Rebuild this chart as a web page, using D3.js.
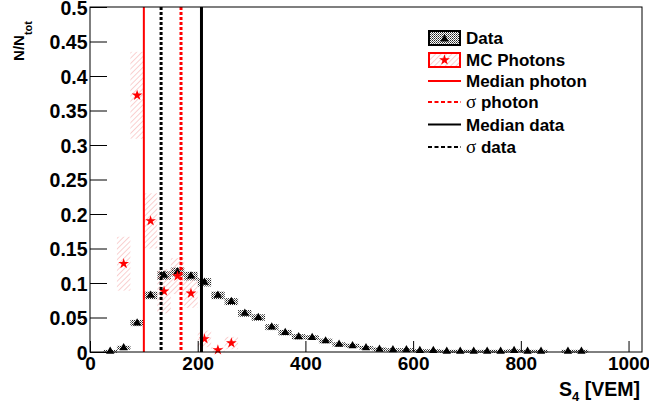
<!DOCTYPE html>
<html><head><meta charset="utf-8">
<script src="https://cdn.jsdelivr.net/npm/d3@7/dist/d3.min.js"></script>
<style>
html,body{margin:0;padding:0;background:#fff;}
svg{display:block;}
text{font-family:"Liberation Sans",Arial,sans-serif;font-weight:bold;fill:#000;}
</style></head><body>
<svg id="c" width="649" height="405"></svg>
<script>
// ---------- data ----------
const dataCenters = [37.5, 62.5, 87.5, 112.5, 137.5, 162.5, 187.5, 212.5, 237.5, 262.5, 287.5, 312.5, 337.5, 362.5, 387.5, 412.5, 437.5, 462.5, 487.5, 512.5, 537.5, 562.5, 587.5, 612.5, 637.5, 662.5, 687.5, 712.5, 737.5, 762.5, 787.5, 812.5, 837.5, 887.5, 912.5];
const dataValues  = [0.001, 0.006, 0.042, 0.082, 0.111, 0.116, 0.110, 0.101, 0.082, 0.073, 0.056, 0.050, 0.036, 0.028, 0.022, 0.021, 0.016, 0.011, 0.009, 0.006, 0.004, 0.003, 0.003, 0.002, 0.002, 0.001, 0.001, 0.001, 0.001, 0.001, 0.002, 0.001, 0.001, 0.001, 0.001];
const dataErrors  = [0.002, 0.003, 0.0045, 0.0055, 0.0065, 0.0065, 0.0062, 0.006, 0.0055, 0.005, 0.0048, 0.0046, 0.0043, 0.004, 0.0038, 0.0036, 0.0034, 0.003, 0.003, 0.0028, 0.0026, 0.0025, 0.0025, 0.0024, 0.0024, 0.0022, 0.0022, 0.0022, 0.0022, 0.0022, 0.0024, 0.0022, 0.0022, 0.0022, 0.0022];
const mcCenters = [62.5, 87.5, 112.5, 137.5, 162.5, 187.5, 212.5, 237.5, 262.5];
const mcValues  = [0.128, 0.372, 0.190, 0.088, 0.110, 0.085, 0.019, 0.003, 0.013];
const mcErrors  = [0.039, 0.063, 0.040, 0.032, 0.026, 0.021, 0.012, 0.004, 0.009];
const binWidth = 25;
const medianPhoton = 100, sigmaPhoton = 169, medianData = 207, sigmaData = 132;
const xMajorTicks = [0, 200, 400, 600, 800, 1000];
const xMinorTicks = [50, 100, 150, 250, 300, 350, 450, 500, 550, 650, 700, 750, 850, 900, 950, 1000];
const yMajorTicks = [0, 0.05, 0.1, 0.15, 0.2, 0.25, 0.3, 0.35, 0.4, 0.45, 0.5];
const yTickLabels = ["0", "0.05", "0.1", "0.15", "0.2", "0.25", "0.3", "0.35", "0.4", "0.45", "0.5"];
const yMinorTicks = d3.range(0, 51).map(d => d / 100);
const legendLabels = ["Data", "MC Photons", "Median photon", "σ photon", "Median data", "σ data"];

// ---------- setup ----------
const svg = d3.select("#c");
const X0 = 90, X1 = 642, Y0 = 352, Y1 = 7;
const x = d3.scaleLinear().domain([0, 1025]).range([X0, X1]);
const y = d3.scaleLinear().domain([0, 0.5]).range([Y0, Y1]);

const defs = svg.append("defs");
const dots = defs.append("pattern").attr("id", "dots").attr("patternUnits", "userSpaceOnUse")
  .attr("width", 2).attr("height", 2);
dots.append("rect").attr("width", 2).attr("height", 2).attr("fill", "#fff");
dots.append("rect").attr("x", 0).attr("y", 0).attr("width", 1).attr("height", 1).attr("fill", "#222");
dots.append("rect").attr("x", 1).attr("y", 1).attr("width", 1).attr("height", 1).attr("fill", "#666");
const hatch = defs.append("pattern").attr("id", "hatch").attr("patternUnits", "userSpaceOnUse")
  .attr("width", 3.8).attr("height", 3.8).attr("patternTransform", "rotate(45)");
hatch.append("line").attr("x1", 0).attr("y1", 0).attr("x2", 0).attr("y2", 3.8)
  .attr("stroke", "#f4a0a0").attr("stroke-width", 1);

const bw = x(binWidth) - x(0);

// data error boxes
svg.append("g").selectAll("rect").data(dataCenters).join("rect")
  .attr("x", (d) => x(d) - bw / 2).attr("width", bw)
  .attr("y", (d, i) => y(dataValues[i] + dataErrors[i]))
  .attr("height", (d, i) => y(dataValues[i] - dataErrors[i]) - y(dataValues[i] + dataErrors[i]))
  .attr("fill", "url(#dots)");

// MC error boxes
svg.append("g").selectAll("rect").data(mcCenters).join("rect")
  .attr("x", (d) => x(d) - bw / 2).attr("width", bw)
  .attr("y", (d, i) => y(mcValues[i] + mcErrors[i]))
  .attr("height", (d, i) => y(Math.max(0, mcValues[i] - mcErrors[i])) - y(mcValues[i] + mcErrors[i]))
  .attr("fill", "url(#hatch)");

// data markers
const tri = d3.symbol().type(d3.symbolTriangle).size(30);
svg.append("g").selectAll("path").data(dataCenters).join("path")
  .attr("d", tri).attr("transform", (d, i) => `translate(${x(d)},${y(dataValues[i])})`)
  .attr("fill", "#000");

// MC markers
const star = d3.symbol().type(d3.symbolStar).size(36);
svg.append("g").selectAll("path").data(mcCenters).join("path")
  .attr("d", star).attr("transform", (d, i) => `translate(${x(d)},${y(mcValues[i])})`)
  .attr("fill", "#f00");

// vertical lines
const vlines = [
  {v: medianPhoton, c: "#f00", w: 2, dash: null},
  {v: sigmaData, c: "#000", w: 3, dash: "3,2"},
  {v: sigmaPhoton, c: "#f00", w: 3, dash: "3,2"},
  {v: medianData, c: "#000", w: 3, dash: null}
];
svg.append("g").selectAll("line").data(vlines).join("line")
  .attr("x1", d => x(d.v)).attr("x2", d => x(d.v)).attr("y1", Y1).attr("y2", Y0)
  .attr("stroke", d => d.c).attr("stroke-width", d => d.w)
  .attr("stroke-dasharray", d => d.dash);

// axes
const gx = svg.append("g").attr("transform", `translate(0,${Y0})`);
gx.call(d3.axisBottom(x).tickValues(xMinorTicks).tickSize(-6).tickFormat(""));
gx.call(d3.axisBottom(x).tickValues(xMajorTicks).tickSize(-11).tickPadding(5).tickFormat(d3.format("d")));
gx.selectAll(".domain").remove();
gx.selectAll("text").attr("font-size", 19).attr("font-family", null);

const gy = svg.append("g").attr("transform", `translate(${X0},0)`);
gy.call(d3.axisLeft(y).tickValues(yMinorTicks).tickSize(-10).tickFormat(""));
gy.call(d3.axisLeft(y).tickValues(yMajorTicks).tickSize(-17).tickPadding(2.5)
  .tickFormat((d, i) => yTickLabels[i]));
gy.selectAll(".domain").remove();
gy.selectAll("text").attr("font-size", 19.5).attr("font-family", null).attr("dy", "0.36em");
svg.selectAll(".tick line").attr("stroke", "#000");

// frame
svg.append("rect").attr("x", X0).attr("y", Y1).attr("width", X1 - X0).attr("height", Y0 - Y1)
  .attr("fill", "none").attr("stroke", "#000").attr("stroke-width", 1);

// axis titles
const xt = svg.append("text").attr("x", 640).attr("y", 396).attr("text-anchor", "end").attr("font-size", 19.5);
xt.append("tspan").text("S");
xt.append("tspan").attr("font-size", 13).attr("dy", 5).text("4");
xt.append("tspan").attr("dy", -5).text(" [VEM]");

const yt = svg.append("text").attr("transform", "translate(24,21) rotate(-90)")
  .attr("text-anchor", "end").attr("font-size", 15);
yt.append("tspan").text("N/N");
yt.append("tspan").attr("font-size", 11).attr("dy", 8).text("tot");

// legend
const lg = svg.append("g");
const rowY = [38, 60, 81, 102, 124.5, 147];
const lx0 = 428, lx1 = 461;
lg.selectAll("text").data(legendLabels).join("text")
  .attr("x", 466).attr("y", (d, i) => rowY[i]).attr("dy", "0.36em").attr("font-size", 17)
  .each(function(d) {
    const t = d3.select(this);
    if (d.startsWith("σ")) {
      t.append("tspan").attr("font-weight", "normal").attr("font-family", "Liberation Serif, serif").attr("font-size", 19).text("σ");
      t.append("tspan").text(d.slice(1));
    } else t.text(d);
  });
// Data entry
lg.append("rect").attr("x", lx0 + 1).attr("y", rowY[0] - 7).attr("width", lx1 - lx0 - 2).attr("height", 14)
  .attr("fill", "url(#dots)").attr("stroke", "#000").attr("stroke-width", 2);
lg.append("path").attr("d", tri).attr("transform", `translate(${(lx0 + lx1) / 2},${rowY[0] + 1})`);
// MC entry
lg.append("rect").attr("x", lx0 + 1).attr("y", rowY[1] - 7).attr("width", lx1 - lx0 - 2).attr("height", 14)
  .attr("fill", "url(#hatch)").attr("stroke", "#f00").attr("stroke-width", 2);
lg.append("path").attr("d", star).attr("transform", `translate(${(lx0 + lx1) / 2},${rowY[1]})`).attr("fill", "#f00");
// line entries
const legLines = [
  {r: 2, c: "#f00", dash: null}, {r: 3, c: "#f00", dash: "4,2.5"},
  {r: 4, c: "#000", dash: null}, {r: 5, c: "#000", dash: "4,2.5"}
];
lg.selectAll("line").data(legLines).join("line")
  .attr("x1", lx0).attr("x2", lx1).attr("y1", d => rowY[d.r]).attr("y2", d => rowY[d.r])
  .attr("stroke", d => d.c).attr("stroke-width", 2).attr("stroke-dasharray", d => d.dash);
</script>
</body></html>
